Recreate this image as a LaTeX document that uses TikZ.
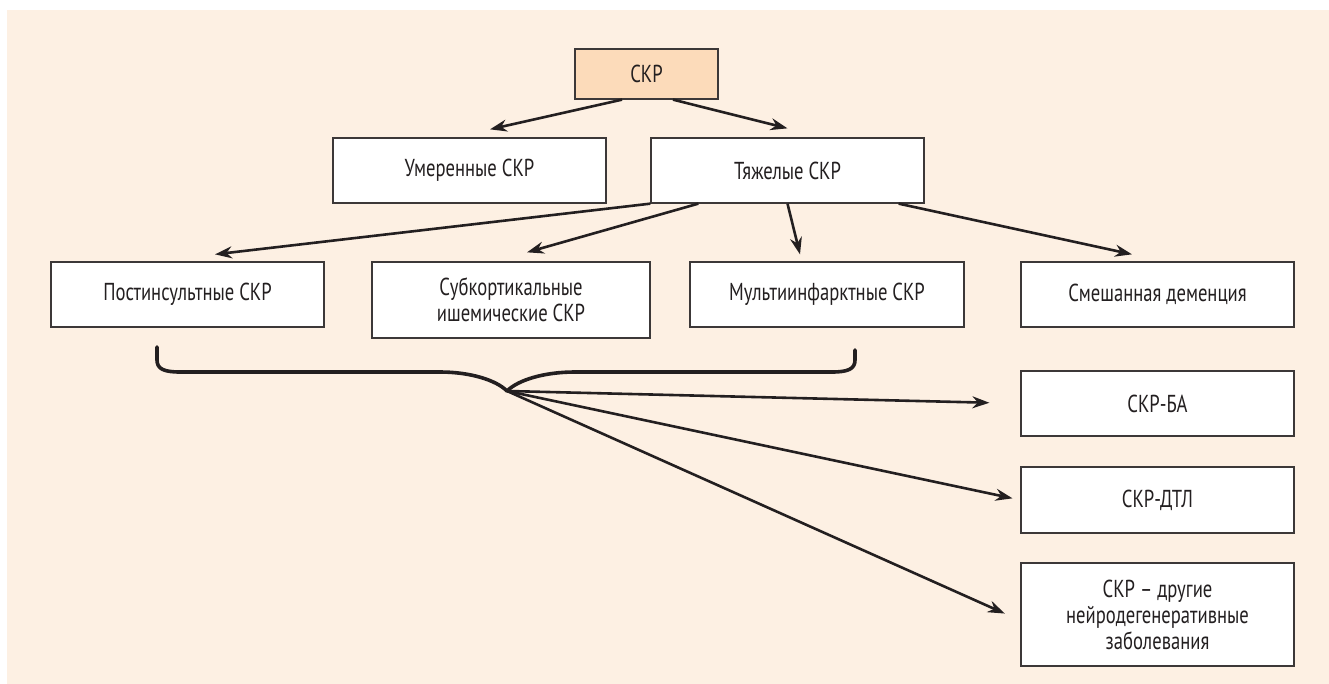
\documentclass[tikz,border=0pt]{standalone}
\usepackage{fontspec}
\setmainfont[FakeStretch=0.76]{PT Sans}
\usepackage{tikz}
\usetikzlibrary{arrows.meta}
\definecolor{bgcream}{RGB}{253,240,227}
\definecolor{topfill}{RGB}{252,219,186}
\definecolor{boxline}{RGB}{60,56,56}
\definecolor{inkgray}{RGB}{35,31,32}

\begin{document}
\begin{tikzpicture}[x=1pt,y=-1pt,>={Stealth[length=17pt,width=12pt]},
	box/.style={draw=boxline,line width=1.3pt,fill=white,text=inkgray,
		minimum width=273pt,minimum height=65pt,inner sep=0pt,align=center,
		font=\fontsize{24.5}{26}\selectfont},
	topbox/.style={box,fill=topfill,minimum width=143pt,minimum height=50pt},
	link/.style={->,line width=2.6pt,inkgray}]
		\useasboundingbox (0,0) rectangle (1329,684);
		\fill[bgcream] (7,10) rectangle (1329,684);

		\node[topbox] (skr) at (646.5,74) {СКР};
		\node[box] (umer) at (469.5,170.5) {Умеренные СКР};
		\node[box] (tyazh) at (787.5,170.5) {Тяжелые СКР};

		\node[box] (post) at (187.5,294.5) {Постинсультные СКР};
		\node[box,minimum width=278pt,minimum height=76pt] (subk) at (511,300) {Субкортикальные\\ишемические СКР};
		\node[box,minimum width=274pt] (multi) at (827,294.5) {Мультиинфарктные СКР};
		\node[box] (smesh) at (1157.5,294.5) {Смешанная деменция};

		\node[box] (ba) at (1157.5,403.5) {СКР-БА};
		\node[box,minimum height=66pt] (dtl) at (1157.5,500) {СКР-ДТЛ};
		\node[box,minimum height=103pt] (other) at (1157.5,614.5) {СКР – другие\\нейродегенеративные\\заболевания};

		\draw[link] ([xshift=-24.5pt]skr.south) -- ([xshift=20.5pt,yshift=8pt]umer.north);
		\draw[link] ([xshift=26.5pt]skr.south) -- ([yshift=9pt]tyazh.north);

		\draw[link] (tyazh.south west) -- ([xshift=27.5pt,yshift=7pt]post.north);
		\draw[link] ([xshift=48pt]tyazh.south west) -- ([xshift=16pt,yshift=9pt]subk.north);
		\draw[link] (tyazh.south) -- ([xshift=-27pt,yshift=7pt]multi.north);
		\draw[link] ([xshift=-26pt]tyazh.south east) -- ([xshift=-25.5pt,yshift=7pt]smesh.north);

		% brace under the three vascular forms
		\coordinate (tip) at (507,391);
		\draw[line width=3.6pt,inkgray,line cap=round,line join=round]
			(157,347) -- (157,360) .. controls (157,369) and (164,372) .. (180,372)
			-- (440,372) .. controls (470,372) and (496,380) .. (tip)
			.. controls (518,380) and (544,372) .. (575,372)
			-- (832,372) .. controls (848,372) and (855,369) .. (855,360) -- (855,350);

		\draw[link,shorten >=31pt] (tip) -- (ba.west);
		\draw[link,shorten >=8pt] (tip) -- (dtl.west);
		\draw[link,shorten >=17pt] (tip) -- ([yshift=-6pt]other.west);
	\end{tikzpicture}
\end{document}
